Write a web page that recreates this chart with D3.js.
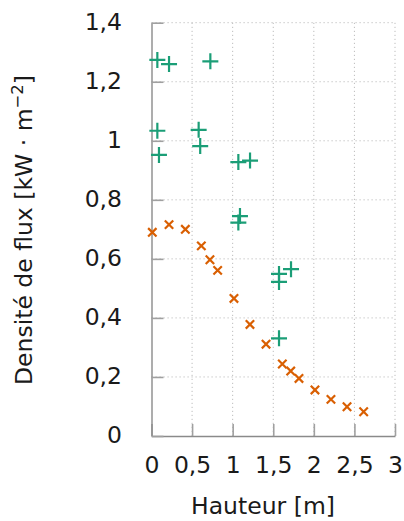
<!DOCTYPE html>
<html><head><meta charset="utf-8">
<script src="https://d3js.org/d3.v7.min.js"></script>
<style>body{margin:0;background:#fff}svg{display:block}text{font-family:"DejaVu Sans",sans-serif;fill:#1a1a1a}</style>
</head><body>
<svg id="c" width="404" height="521"></svg>
<script>
// Data
const plusX = [0.072,0.216,0.725,0.072,0.581,0.092,0.60,1.07,1.214,1.09,1.07,1.571,1.571,1.719,1.571];
const plusY = [1.274,1.260,1.269,1.034,1.037,0.952,0.982,0.928,0.933,0.745,0.723,0.549,0.522,0.565,0.331];
const crossX = [0.01,0.216,0.417,0.614,0.72,0.815,1.016,1.213,1.411,1.612,1.715,1.817,2.014,2.211,2.409,2.614];
const crossY = [0.690,0.716,0.700,0.644,0.597,0.561,0.466,0.378,0.311,0.244,0.220,0.195,0.156,0.124,0.099,0.082];
const xTicks = [0,0.5,1,1.5,2,2.5,3];
const yTicks = [0,0.2,0.4,0.6,0.8,1,1.2,1.4];
const xTitle = "Hauteur [m]";

const svg = d3.select("#c");
const x = d3.scaleLinear().domain([0,3]).range([151.5,395]);
const y = d3.scaleLinear().domain([0,1.4]).range([436,22.7]);
const fmt = d => String(+d.toFixed(2)).replace(".", ",");

// grid
const g = svg.append("g");
g.selectAll("line.vx").data(xTicks.slice(1)).join("line")
  .attr("x1", d=>x(d)).attr("x2", d=>x(d)).attr("y1", y(0)).attr("y2", y(1.4))
  .attr("stroke","#bdbdbd").attr("stroke-width",1).attr("stroke-dasharray","1.2,2.8");
g.selectAll("line.hy").data(yTicks.slice(1)).join("line")
  .attr("y1", d=>y(d)).attr("y2", d=>y(d)).attr("x1", x(0)).attr("x2", x(3))
  .attr("stroke","#bdbdbd").attr("stroke-width",1).attr("stroke-dasharray","1.2,2.8");

// axes
const xAxis = d3.axisBottom(x).tickValues(xTicks).tickSizeInner(-12).tickSizeOuter(0).tickFormat(fmt);
const yAxis = d3.axisLeft(y).tickValues(yTicks).tickSizeInner(-12).tickSizeOuter(0).tickFormat(fmt);
const gx = svg.append("g").attr("transform","translate(0,436)").call(xAxis);
const gy = svg.append("g").attr("transform","translate(151.5,0)").call(yAxis);
[gx,gy].forEach(a=>{
  a.select(".domain").attr("stroke","#8a8a8a").attr("stroke-width",1.4);
  a.selectAll(".tick line").attr("stroke","#a0a0a0").attr("stroke-width",1.6);
  a.selectAll(".tick text").attr("font-size",23.5).attr("font-family","DejaVu Sans").attr("fill","#1a1a1a");
});
gx.selectAll(".tick text").attr("y",null).attr("dy",null).attr("transform","translate(0,36.7)");
gy.selectAll(".tick text").attr("x",-29.5).attr("dy",null).attr("y",6.5);

// titles
svg.append("text").attr("x",263).attr("y",514).attr("text-anchor","middle").attr("font-size",23.5).text(xTitle);
const yt = svg.append("text").attr("transform","translate(32,230) rotate(-90)").attr("text-anchor","middle").attr("font-size",23.5);
yt.append("tspan").text("Densité de flux [kW · m");
yt.append("tspan").attr("font-size",16.5).attr("dy",-9).text("−2");
yt.append("tspan").attr("dy",9).text("]");

// markers
const green = "#1b9e77", orange = "#d95f02";
const plusData = plusX.map((v,i)=>[v,plusY[i]]);
const crossData = crossX.map((v,i)=>[v,crossY[i]]);
svg.append("g").selectAll("path").data(plusData).join("path")
  .attr("d", d=>{const cx=x(d[0]), cy=y(d[1]), r=8; return `M${cx-r},${cy}H${cx+r}M${cx},${cy-r}V${cy+r}`;})
  .attr("stroke",green).attr("stroke-width",2.2).attr("fill","none");
svg.append("g").selectAll("path").data(crossData).join("path")
  .attr("d", d=>{const cx=x(d[0]), cy=y(d[1]), r=4.2; return `M${cx-r},${cy-r}L${cx+r},${cy+r}M${cx-r},${cy+r}L${cx+r},${cy-r}`;})
  .attr("stroke",orange).attr("stroke-width",2.2).attr("fill","none");
</script>
</body></html>
